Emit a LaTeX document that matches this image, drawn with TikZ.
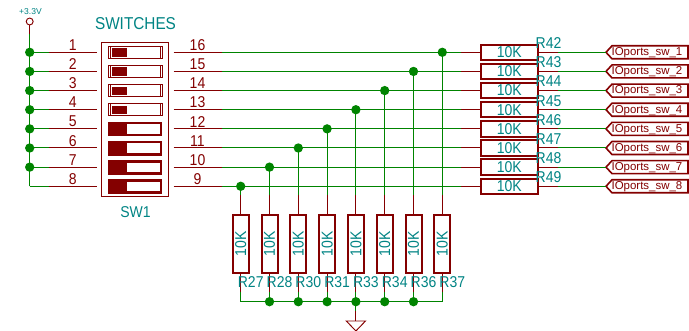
\documentclass[tikz,border=0pt]{standalone}
\usepackage{fontspec}
\usepackage{graphicx}
\setmainfont{Liberation Sans}
\newcommand{\tallt}[1]{\scalebox{1}[1.12]{#1}}
\definecolor{kred}{RGB}{132,0,0}
\definecolor{kgreen}{RGB}{0,132,0}
\definecolor{kteal}{RGB}{0,132,132}
\tikzset{
  wire/.style={kgreen,line width=0.75pt},
  pin/.style={kred,line width=0.75pt},
  dotj/.style={circle,fill=kgreen,draw=none,inner sep=0pt,minimum size=7pt},
  res/.style={draw=kred,line width=1.5pt,fill=white,inner sep=0pt,minimum width=43pt,minimum height=11.5pt,text=kteal,font=\fontsize{10.5}{12}\selectfont},
  resv/.style={draw=kred,line width=1.5pt,fill=white,inner sep=0pt,minimum width=43pt,minimum height=12pt,text=kteal,font=\fontsize{10.5}{12}\selectfont,rotate=90},
  tlabel/.style={text=kteal,inner sep=0pt,font=\fontsize{10.5}{12}\selectfont},
  pnum/.style={text=kred,inner sep=0pt,font=\fontsize{10.5}{12}\selectfont},
  plabel/.style={text=kred,inner sep=0pt,font=\fontsize{8.6}{10}\selectfont}
}
\begin{document}
\begin{tikzpicture}[x=0.75pt,y=-0.75pt]
\useasboundingbox (0,0) rectangle (689,331);
\fill[white] (0,0) rectangle (689,331);
% switch body
\node[draw=kred,line width=0.9pt,minimum width=50.5pt,minimum height=115pt,inner sep=0pt] (sw) at (135.2,119.5) {};
\node[text=kteal,inner sep=0pt,font=\fontsize{11.5}{13}\selectfont] (swname) at (135.5,24) {\tallt{SWITCHES}};
\node[tlabel] (swref) at (135.5,212) {\tallt{SW1}};
% power
\node[circle,draw=kred,line width=0.7pt,fill=white,inner sep=0pt,minimum size=5.2pt] (pwr) at (29.7,21.5) {};
\node[text=kteal,inner sep=0pt,font=\fontsize{6.4}{8}\selectfont] (pwrl) at (30.5,12) {+3.3V};
\coordinate (pwrr) at (29.7,34);
\coordinate (busend) at (29.7,186.3);
\draw[wire] (pwrr) -- (busend);
\draw[pin] (pwr) -- (pwrr);
% rows
\foreach \i/\rn/\jx/\rv/\vn/\rightnum in {
  1/42/442.3/37/8/16, 2/43/413.5/36/7/15, 3/44/384.7/34/6/14, 4/45/355.9/33/5/13,
  5/46/327.1/31/4/12, 6/47/298.3/30/3/11, 7/48/269.5/28/2/10, 8/49/240.7/27/1/9}{
  \pgfmathsetmacro{\yy}{52.3+(\i-1)*19.14}
  \coordinate (lj\i) at (29.7,\yy);
  \coordinate (lw\i) at (49,\yy);
  \coordinate (lp\i) at (97,\yy);
  \coordinate (rp\i) at (173.5,\yy);
  \coordinate (rw\i) at (222,\yy);
  \coordinate (rl\i) at (461,\yy);
  \coordinate (ro\i) at (557.5,\yy);
  % wires
  \draw[wire] (lj\i) -- (lw\i);
  \draw[pin] (lw\i) -- (lp\i);
  \draw[pin] (rp\i) -- (rw\i);
  \draw[wire] (rw\i) -- (rl\i);
  % pin numbers
  \node[pnum] (ln\i) at (72.8,\yy-7.2) {\tallt{\i}};
  \node[pnum] (rn\i) at (197.5,\yy-7.2) {\tallt{\rightnum}};
  % horizontal resistor
  \node[res] (rh\i) at (509.3,\yy) {\tallt{10K}};
  \draw[pin] (rl\i) -- (rh\i.west);
  \draw[pin] (rh\i.east) -- (ro\i);
  \node[tlabel] (rhl\i) at (548.5,\yy-9) {\tallt{R\rn}};
  % hierarchical label
  \node[plabel,anchor=base west] (io\i) at (611.3,\yy+3.4) {IOports\char`\_sw\char`\_\i};
  \coordinate (tip\i) at (606,\yy);
  \draw[kred,line width=1.2pt] (tip\i) -- (612,\yy-6.5) -- (688,\yy-6.5) -- (688,\yy+6.5) -- (612,\yy+6.5) -- cycle;
  \draw[wire] (ro\i) -- (tip\i);
  % vertical resistor
  \node[resv] (rv\i) at (\jx,244) {\tallt{10K}};
  \coordinate (vt\i) at (\jx,195.5);
  \coordinate (vb\i) at (\jx,292);
  \coordinate (vj\i) at (\jx,\yy);
  \coordinate (gb\i) at (\jx,301.7);
  \draw[wire] (vj\i) -- (vt\i);
  \draw[pin] (vt\i) -- (rv\i.east);
  \draw[pin] (rv\i.west) -- (vb\i);
  \draw[wire] (vb\i) -- (gb\i);
  \node[tlabel] (rvl\i) at (\jx+10,281.7) {\tallt{R\rv}};
  \node[dotj] (jt\i) at (vj\i) {};
  % switch symbol
  \ifnum\i<5
    \draw[kred,line width=1.1pt] (108.5,\yy-6) rectangle (162.3,\yy+6);
    \draw[kred,line width=0.5pt] (160.2,\yy-6) -- (160.2,\yy+6);
    \fill[kred] (112,\yy-4) rectangle (126.7,\yy+4.3);
    \draw[kred,line width=0.5pt] (110.5,\yy-6) -- (110.5,\yy+6);
  \else
    \draw[kred,line width=2pt] (109,\yy-5.9) rectangle (161,\yy+6.2);
    \fill[kred] (108,\yy-7) rectangle (126.8,\yy+7.3);
  \fi
}
\draw[wire] (lj8) -- (lj1);
\foreach \i in {1,...,7}{\node[dotj] (jl\i) at (lj\i) {};}
% bottom bus
\draw[wire] (gb8) -- (gb1);
\foreach \i in {2,...,7}{\node[dotj] (jb\i) at (gb\i) {};}
% ground
\coordinate (gp) at (355.9,311);
\coordinate (gt) at (355.9,321);
\draw[wire] (gb4) -- (gp);
\draw[pin] (gp) -- (gt);
\draw[kred,line width=0.7pt] (346.3,321) -- (365.5,321) -- (355.9,331) -- cycle;
\end{tikzpicture}
\end{document}
